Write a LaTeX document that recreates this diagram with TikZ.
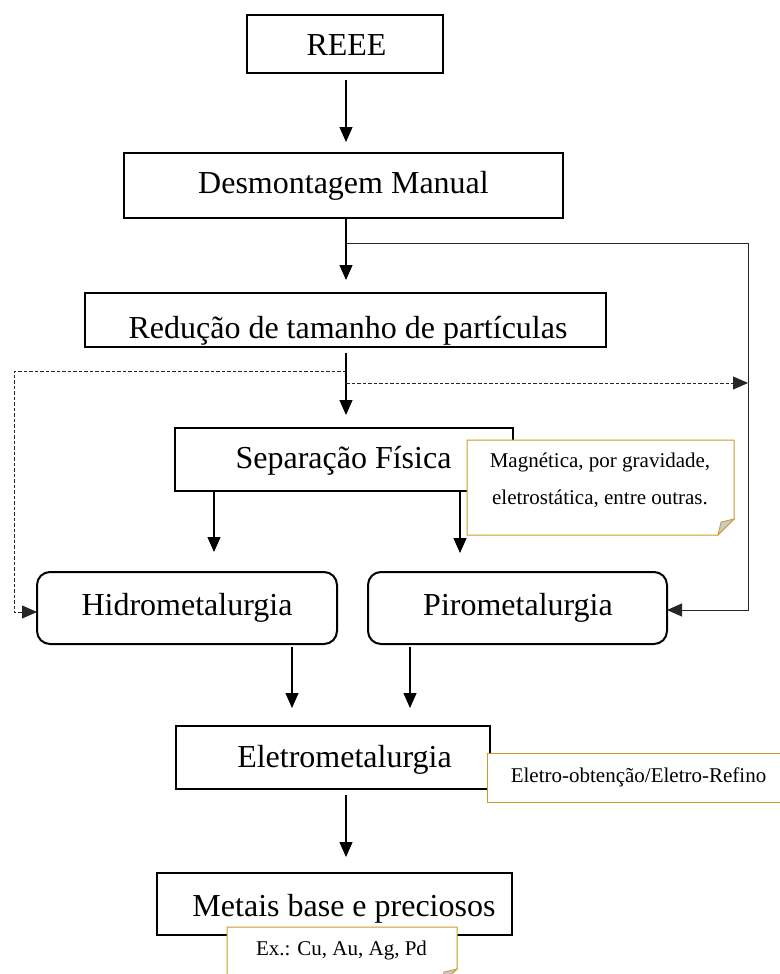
\documentclass[tikz,border=0pt]{standalone}
\usepackage{fontspec}
\setmainfont{Liberation Serif}
\usetikzlibrary{arrows.meta}
\definecolor{notegold}{RGB}{204,154,40}
\definecolor{foldgray}{RGB}{200,200,200}
\begin{document}
\begin{tikzpicture}[x=1pt,y=-1pt,
  stagebox/.style={draw=black, line width=2pt, fill=white, inner sep=0pt, outer sep=0pt},
  roundbox/.style={stagebox, rounded corners=13pt},
  stagetext/.style={anchor=base, inner sep=0pt, font=\fontsize{32}{38}\selectfont},
  notetext/.style={anchor=base, inner sep=0pt, font=\fontsize{21}{25}\selectfont},
  notebox/.style={draw=notegold, line width=1pt, fill=white},
  flow/.style={line width=1.2pt, -{Triangle[length=15pt,width=13pt]}},
  sideflow/.style={line width=1pt, draw=black!85, -{Triangle[length=15pt,width=13pt]}},
  dashflow/.style={line width=0.9pt, draw=black!85, dash pattern=on 3.5pt off 2pt, -{Triangle[length=15pt,width=13pt]}}]
\useasboundingbox (0,0) rectangle (779,974);

% process stages
\node[stagebox, minimum width=196pt, minimum height=58pt] (reee) at (345,44) {};
\node[stagebox, minimum width=439pt, minimum height=65pt] (desm) at (343.5,185.5) {};
\begin{scope}
  \clip (85,293) rectangle (606,345);
  \node[stagetext] (redut) at (348,338) {Redução de tamanho de partículas};
\end{scope}
\node[draw=black, line width=2pt, inner sep=0pt, outer sep=0pt, minimum width=521pt, minimum height=54pt] (redu) at (345.5,320) {};
\node[stagebox, minimum width=338pt, minimum height=63pt] (sep) at (344,459.5) {};
\node[roundbox, minimum width=300pt, minimum height=72pt] (hidro) at (187,608) {};
\node[roundbox, minimum width=299pt, minimum height=72pt] (piro) at (517.5,608) {};
\node[stagebox, minimum width=314pt, minimum height=63pt] (eletro) at (333,757.5) {};
\node[stagebox, minimum width=355pt, minimum height=62pt] (metais) at (334.5,904) {};

% stage labels
\node[stagetext] (reeet) at (346.5,56) {REEE};
\node[stagetext] (desmt) at (343.5,193) {Desmontagem Manual};
\node[stagetext] (sept) at (343.5,468) {Separação Física};
\node[stagetext] (hidrot) at (187,615) {Hidrometalurgia};
\node[stagetext] (pirot) at (518,615) {Pirometalurgia};
\node[stagetext] (eletrot) at (344.5,767) {Eletrometalurgia};
\node[stagetext] (metaist) at (344,916) {Metais base e preciosos};

% helper columns for the vertical connectors
\coordinate (axis) at (346,0);
\coordinate (colA) at (214,0);
\coordinate (colB) at (460,0);
\coordinate (colC) at (292,0);
\coordinate (colD) at (410,0);
\coordinate (branch) at (346,243);
\coordinate (split) at (346,371);
\coordinate (split2) at (346,383);
\coordinate (rail) at (748,383);

% main flow
\draw[flow, shorten <=7pt, shorten >=11pt] (reee.south -| axis) -- (desm.north -| axis);
\draw[flow, shorten >=13pt] (desm.south -| axis) -- (redu.north -| axis);
\draw[flow, shorten <=6pt, shorten >=13pt] (redu.south -| axis) -- (sep.north -| axis);
\draw[flow, shorten >=20pt] (sep.south -| colA) -- (hidro.north -| colA);
\draw[flow, shorten >=19pt] (sep.south -| colB) -- (piro.north -| colB);
\draw[flow, shorten <=3pt, shorten >=18pt] (hidro.south -| colC) -- (eletro.north -| colC);
\draw[flow, shorten <=3pt, shorten >=18pt] (piro.south -| colD) -- (eletro.north -| colD);
\draw[flow, shorten <=6pt, shorten >=16pt] (eletro.south -| axis) -- (metais.north -| axis);

% bypass routes
\draw[sideflow] (branch) -- (branch -| rail) -- ([yshift=-2pt]piro.east -| rail) -- ([yshift=-2pt]piro.east);
\draw[dashflow] (split) -- (14,371) -- ([yshift=-4pt]hidro.west -| 14,0) -- ([yshift=-4pt]hidro.west);
\draw[dashflow] (split2) -- (rail);

% side notes
\draw[notebox] (467,440) -- (734,440) -- (734,519) -- (718,535) -- (467,535) -- cycle;
\draw[notegold, line width=0.8pt, fill=foldgray] (718,535) -- (734,519) -- (721,522) -- cycle;
\node[notetext] (note1a) at (600,467) {Magnética, por gravidade,};
\node[notetext] (note1b) at (600,504) {eletrostática, entre outras.};

\draw[notebox] (487,753) rectangle (792,802);
\node[notetext] (note2) at (638.5,782) {Eletro-obtenção/Eletro-Refino};

\draw[notebox] (227,927) -- (457,927) -- (457,969) -- (441,985) -- (227,985) -- cycle;
\draw[notegold, line width=0.8pt, fill=foldgray] (441,985) -- (457,969) -- (444,972) -- cycle;
\node[notetext] (note3) at (341.5,955) {Ex.: Cu, Au, Ag, Pd};
\end{tikzpicture}
\end{document}
